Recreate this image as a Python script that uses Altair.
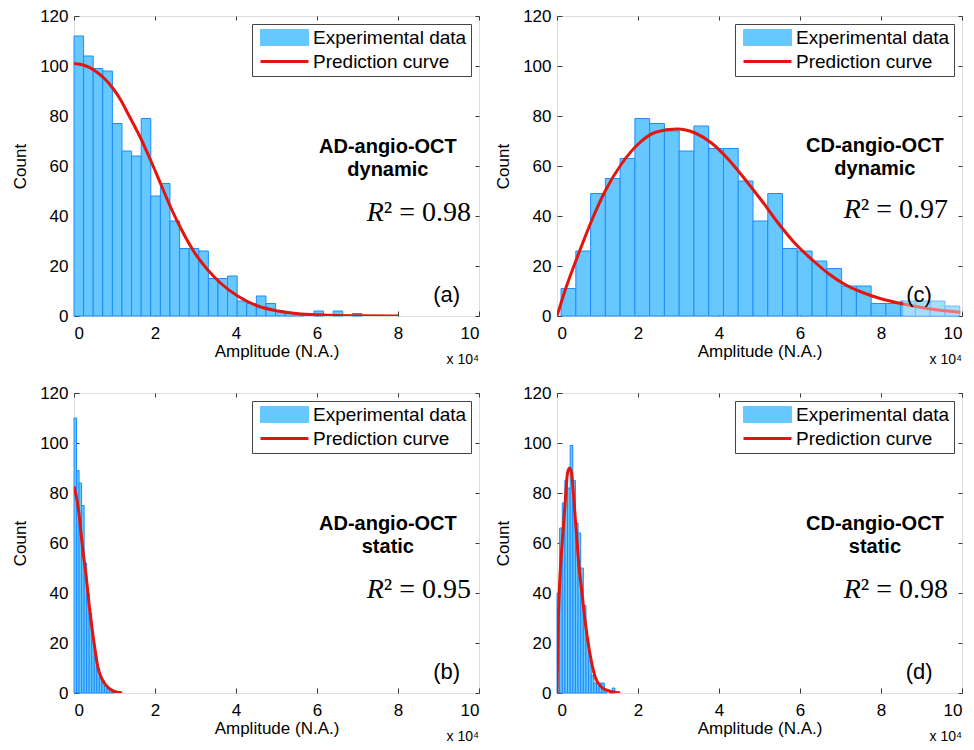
import altair as alt
import pandas as pd

# ---------------- data (x in units of 10^4) ----------------
SERIES = ["Experimental data", "Prediction curve"]
X_TICKS = [0, 2, 4, 6, 8, 10]
Y_TICKS = [0, 20, 40, 60, 80, 100, 120]

# (a) AD-angio-OCT dynamic
a_bin_start = 0.0
a_bin_width = 0.237
a_counts = [112, 104, 99, 98, 77, 66, 64, 79, 48, 53, 38, 27, 27, 26, 15, 15, 16, 6, 5, 8,
            5, 2, 1, 1, 0, 2, 0, 2, 0, 1]
a_curve_x = [0, 0.25, 0.5, 0.75, 0.955, 1.15, 1.33, 1.65, 1.9, 2.15, 2.4, 2.64, 2.97, 3.3, 3.63,
             4.04, 4.54, 5.03, 5.6, 6.26, 7.0, 8.0]
a_curve_y = [101, 100.3, 98.3, 95.0, 91.2, 86.5, 81, 71, 62, 52.5, 43, 35, 25.5, 18.5, 13, 8, 4,
             2, 0.8, 0.3, 0.1, 0]

# (c) CD-angio-OCT dynamic
c_bin_start = 0.1
c_bin_width = 0.3646
c_counts = [11, 26, 49, 55, 63, 79, 77, 74, 66, 76, 67, 67, 54, 38, 49, 27, 26, 22, 19, 12, 12,
            5, 5, 6, 6, 6, 4]
c_curve_x = [0, 0.205, 0.535, 0.864, 1.19, 1.6, 2.02, 2.43, 2.96, 3.41, 3.83, 4.24, 4.65, 5.06,
             5.47, 5.88, 6.3, 6.7, 7.12, 7.53, 7.94, 8.35, 8.77, 9.18, 9.96]
c_curve_y = [0, 10.5, 25, 38.5, 50, 61, 69, 73.5, 74.8, 73.2, 69, 62.5, 54.5, 46, 37, 29, 22.5,
             17, 12.5, 9.5, 7.2, 5.5, 4.1, 2.9, 1.5]

# (b) AD-angio-OCT static
b_bin_start = 0.0
b_bin_width = 0.0625
b_counts = [110, 89, 84, 75, 52, 40, 32, 22, 15, 10, 6, 5, 3, 2, 1, 1]
b_curve_x = [0, 0.075, 0.133, 0.174, 0.22, 0.305, 0.38, 0.487, 0.59, 0.68, 0.775, 0.98, 1.19]
b_curve_y = [82.7, 77, 70.4, 63.7, 57, 46, 34.4, 21, 10.3, 6, 3.4, 0.7, 0]

# (d) CD-angio-OCT static
d_bin_start = 0.0
d_bin_width = 0.065
d_counts = [40, 66, 76, 85, 82, 99, 85, 68, 64, 50, 35, 22, 13, 7, 4, 4, 4, 4, 1, 0, 1, 2]
d_curve_x = [0, 0.016, 0.065, 0.106, 0.165, 0.205, 0.26, 0.31, 0.36, 0.41, 0.475, 0.53, 0.617,
             0.70, 0.80, 0.945, 1.11, 1.27, 1.56]
d_curve_y = [0, 17, 43.8, 55, 68, 77, 88, 90, 88, 78.6, 65, 53, 40, 28, 17, 6.3, 2.2, 0.9, 0]

# ---------------- styles ----------------
BAR_FILL = "#66c8ff"
BAR_EDGE = "#1e8cff"
RED = "#e3150c"
AXIS_COLOR = "#3a3a3a"
FONT = "Liberation Sans"
SERIF = "Liberation Serif"
W, H = 405, 300

RECT_PATH = "M-2,-0.667L2,-0.667L2,0.667L-2,0.667Z"
LINE_PATH = "M-2,-0.12L2,-0.12L2,0.12L-2,0.12Z"
IS_CURVE = "datum.value === 'Prediction curve'"


def bars_frame(start, width, counts):
    rows = []
    for i, c in enumerate(counts):
        if c > 0:
            x0 = start + i * width
            rows.append({"x0": x0, "x1": x0 + width, "count": c, "series": SERIES[0]})
    return pd.DataFrame(rows)


def curve_frame(xs, ys):
    return pd.DataFrame({"x": xs, "y": ys, "series": SERIES[1]})


x_scale = alt.Scale(domain=[0, 10], nice=False, zero=False)
y_scale = alt.Scale(domain=[0, 120], nice=False)
color_scale = alt.Scale(domain=SERIES, range=[BAR_FILL, RED])

legend = alt.Legend(
    title=None, orient="top-right", offset=8, padding=4,
    strokeColor="#444444", fillColor="white",
    labelFont=FONT, labelFontSize=19, labelColor="black", labelLimit=400,
    labelOffset=19, rowPadding=4, symbolOffset=19,
    symbolType=alt.ExprRef(expr=f"{IS_CURVE} ? '{LINE_PATH}' : '{RECT_PATH}'"),
    symbolSize=576,
    symbolStrokeColor=alt.ExprRef(expr=f"{IS_CURVE} ? '{RED}' : '{BAR_EDGE}'"),
    symbolStrokeWidth=alt.ExprRef(expr=f"{IS_CURVE} ? 0 : 1"),
    symbolOpacity=1,
)


def text_layer(df, **kw):
    return alt.Chart(df).mark_text(**kw).encode(
        x=alt.X("x:Q", scale=x_scale, axis=None),
        y=alt.Y("y:Q", scale=y_scale, axis=None),
        text="text:N",
    )


def panel(bars_df, curve_df, name, kind, r2, letter, ann):
    bars = alt.Chart(bars_df).mark_rect(stroke=BAR_EDGE, strokeWidth=1, opacity=1).encode(
        x=alt.X("x0:Q", scale=x_scale,
                axis=alt.Axis(values=X_TICKS, format="d", title="Amplitude (N.A.)", grid=False,
                              domain=False, tickSize=5, offset=-5, tickColor=AXIS_COLOR,
                              labelFont=FONT, labelFontSize=17, labelColor="black",
                              labelPadding=9, titleFont=FONT, titleFontSize=17,
                              titleFontWeight="normal", titleColor="black", titlePadding=2)),
        x2="x1:Q",
        y=alt.Y("count:Q", scale=y_scale,
                axis=alt.Axis(values=Y_TICKS, format="d", title="Count", grid=False,
                              domain=False, tickSize=5, offset=-5, tickColor=AXIS_COLOR,
                              labelFont=FONT, labelFontSize=17, labelColor="black",
                              labelPadding=6, titleFont=FONT, titleFontSize=17,
                              titleFontWeight="normal", titleColor="black", titlePadding=10)),
        y2=alt.datum(0),
        color=alt.Color("series:N", scale=color_scale, legend=legend),
    )
    line = alt.Chart(curve_df).mark_line(strokeWidth=3, interpolate="monotone", clip=True).encode(
        x=alt.X("x:Q", scale=x_scale,
                axis=alt.Axis(orient="top", values=X_TICKS, labels=False, title=None, grid=False,
                              domain=False, tickSize=4, offset=-4, tickColor=AXIS_COLOR)),
        y=alt.Y("y:Q", scale=y_scale,
                axis=alt.Axis(orient="right", values=Y_TICKS, labels=False, title=None, grid=False,
                              domain=False, tickSize=4, offset=-4, tickColor=AXIS_COLOR)),
        color=alt.Color("series:N", scale=color_scale, legend=legend),
    )
    layers = [bars, line]
    if "box" in ann:
        x0, x1, y0, y1 = ann["box"]
        box = alt.Chart(pd.DataFrame({"x0": [x0], "x1": [x1], "y0": [y0], "y1": [y1]})).mark_rect(
            fill="white", opacity=0.4, clip=True
        ).encode(
            x=alt.X("x0:Q", scale=x_scale, axis=None), x2="x1:Q",
            y=alt.Y("y0:Q", scale=y_scale, axis=None), y2="y1:Q",
        )
        layers.append(box)
    t_title = text_layer(pd.DataFrame({"x": [ann["tx"], ann["tx"]],
                                       "y": [ann["ty"], ann["sy"]],
                                       "text": [name, kind]}),
                         font=FONT, fontSize=20, fontWeight="bold", color="black",
                         align="center", baseline="middle")
    t_r = text_layer(pd.DataFrame({"x": [ann["rx"]], "y": [ann["ry"]], "text": ["R"]}),
                     font=SERIF, fontSize=28, fontStyle="italic", color="black",
                     align="right", baseline="middle")
    t_r2 = text_layer(pd.DataFrame({"x": [ann["rx"]], "y": [ann["ry"]],
                                    "text": ["\u00b2 = " + r2]}),
                      font=SERIF, fontSize=28, color="black", align="left", baseline="middle")
    t_letter = text_layer(pd.DataFrame({"x": [ann["lx"]], "y": [ann["ly"]], "text": [letter]}),
                          font=FONT, fontSize=22, color="black", align="center",
                          baseline="middle")
    t_exp = text_layer(pd.DataFrame({"x": [ann["ex"]], "y": [ann["ey"]],
                                     "text": ["x 10\u2074"]}),
                       font=FONT, fontSize=14, color="black", align="right",
                       baseline="middle")
    layers += [t_title, t_r, t_r2, t_letter, t_exp]
    return alt.layer(*layers).properties(
        width=W, height=H
    ).resolve_axis(x="independent", y="independent")


ann_a = dict(tx=7.75, ty=67.7, sy=58.5, rx=7.65, ry=41.2, lx=9.2, ly=8.5, ex=10.0, ey=-17.6)
ann_c = dict(tx=7.85, ty=68.2, sy=58.8, rx=7.5, ry=42.4, lx=8.94, ly=8.4, ex=10.0, ey=-17.6,
             box=(8.55, 10.0, 0, 12))
ann_b = dict(tx=7.75, ty=67.7, sy=58.5, rx=7.65, ry=41.2, lx=9.2, ly=8.5, ex=10.0, ey=-17.7)
ann_d = dict(tx=7.85, ty=67.7, sy=58.5, rx=7.5, ry=41.2, lx=8.94, ly=8.4, ex=10.0, ey=-17.7)

pa = panel(bars_frame(a_bin_start, a_bin_width, a_counts), curve_frame(a_curve_x, a_curve_y),
           "AD-angio-OCT", "dynamic", "0.98", "(a)", ann_a)
pc = panel(bars_frame(c_bin_start, c_bin_width, c_counts), curve_frame(c_curve_x, c_curve_y),
           "CD-angio-OCT", "dynamic", "0.97", "(c)", ann_c)
pb = panel(bars_frame(b_bin_start, b_bin_width, b_counts), curve_frame(b_curve_x, b_curve_y),
           "AD-angio-OCT", "static", "0.95", "(b)", ann_b)
pd_ = panel(bars_frame(d_bin_start, d_bin_width, d_counts), curve_frame(d_curve_x, d_curve_y),
            "CD-angio-OCT", "static", "0.98", "(d)", ann_d)

chart = alt.vconcat(
    alt.hconcat(pa, pc, spacing=14).resolve_scale(color="independent"),
    alt.hconcat(pb, pd_, spacing=14).resolve_scale(color="independent"),
    spacing=15,
).resolve_scale(color="independent").properties(
    padding={"left": 3, "top": -2, "right": 0, "bottom": 0}
).configure_view(
    stroke=AXIS_COLOR, strokeWidth=1
).configure(background="white")

chart.save("out.html", embed_options={"renderer": "svg", "actions": False})
